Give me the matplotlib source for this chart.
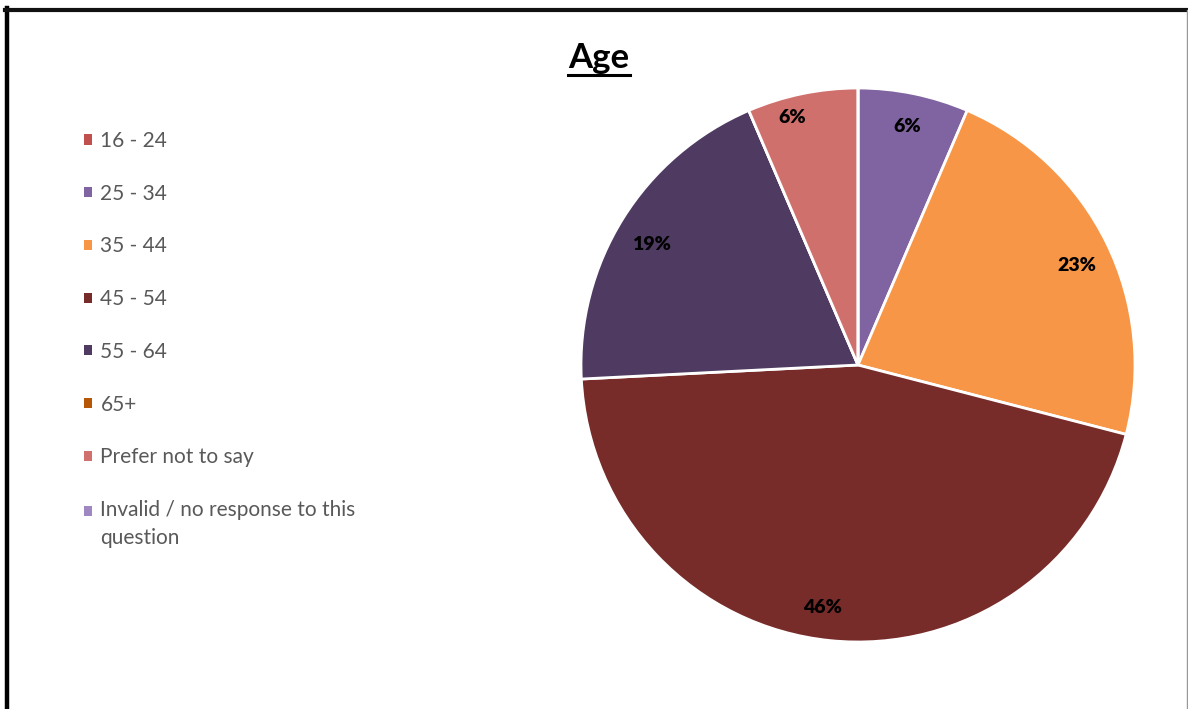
import matplotlib
matplotlib.use("Agg")
import matplotlib.pyplot as plt
from matplotlib.patches import Rectangle
from matplotlib.lines import Line2D
from matplotlib.legend_handler import HandlerPatch

# data
categories = ["16 - 24", "25 - 34", "35 - 44", "45 - 54", "55 - 64", "65+",
              "Prefer not to say", "Invalid / no response to this\nquestion"]
counts = [0, 2, 7, 14, 6, 0, 2, 0]
pct_labels = ["", "6%", "23%", "46%", "19%", "", "6%", ""]
colors = ["#C0504D", "#8064A2", "#F79646", "#772C2A", "#4F3B62", "#B65708",
          "#CF706C", "#9F87C1"]

plt.rcParams["font.family"] = ["Lato", "DejaVu Sans"]

W, H = 1188, 709
fig = plt.figure(figsize=(W / 100, H / 100), dpi=100)

# outer frame (thick black top/left, thin grey right)
fig.add_artist(Line2D([7 / W, 7 / W], [0, 1 - 8 / H], transform=fig.transFigure,
                      color="black", lw=3.2))
fig.add_artist(Line2D([5 / W, 1187 / W], [1 - 9.5 / H, 1 - 9.5 / H], transform=fig.transFigure,
                      color="#111111", lw=3.0))
fig.add_artist(Line2D([1186.5 / W, 1186.5 / W], [0, 1 - 9.5 / H], transform=fig.transFigure,
                      color="#999999", lw=1.0))

# pie
cx, cy, r = 858, 365, 277
ax = fig.add_axes([(cx - r) / W, (H - cy - r) / H, 2 * r / W, 2 * r / H])
wedges, texts = ax.pie(counts, colors=colors, startangle=90, counterclock=False,
                       labels=pct_labels, labeldistance=0.88,
                       wedgeprops=dict(edgecolor="white", linewidth=2.0))
for t in texts:
    t.set_fontsize(14)
    t.set_fontweight("heavy")
    t.set_color("black")
    t.set_ha("center")
    t.set_va("center")
# small nudges toward Excel's label spots
texts[6].set_position((texts[6].get_position()[0] - 0.06, texts[6].get_position()[1] + 0.03))
texts[3].set_position((texts[3].get_position()[0] - 0.04, texts[3].get_position()[1]))
for i in (2, 4):
    x, y = texts[i].get_position()
    texts[i].set_position((x, y - 0.03))
ax.set_aspect("equal")
ax.set_xlim(-1, 1)
ax.set_ylim(-1, 1)
ax.axis("off")

# title with underline
title = fig.text(599 / W, 1 - 68 / H, "Age", ha="center", va="baseline",
                 fontsize=25, fontweight="bold", color="black")
fig.canvas.draw()
bb = title.get_window_extent(fig.canvas.get_renderer())
fig.add_artist(Line2D([bb.x0 / W, bb.x1 / W], [1 - 74.5 / H, 1 - 74.5 / H],
                      transform=fig.transFigure, color="black", lw=2.2))


# legend; the two-line entry keeps its square on the first line
def top_square(legend, orig_handle, xdescent, ydescent, width, height, fontsize):
    return Rectangle((-xdescent, -ydescent + 10), width, height)


handles = [Rectangle((0, 0), 1, 1, facecolor=c, edgecolor="none") for c in colors]
leg = fig.legend(handles, categories, loc="upper left",
                 bbox_to_anchor=(84 / W, 1 - 131 / H), frameon=False,
                 fontsize=15, labelcolor="#595959",
                 handlelength=0.37, handleheight=0.37, handletextpad=0.42,
                 labelspacing=1.57, borderaxespad=0, borderpad=0,
                 handler_map={handles[-1]: HandlerPatch(patch_func=top_square)})
for t in leg.get_texts():
    t.set_linespacing(1.5)

fig.savefig("out.png", dpi=100)
